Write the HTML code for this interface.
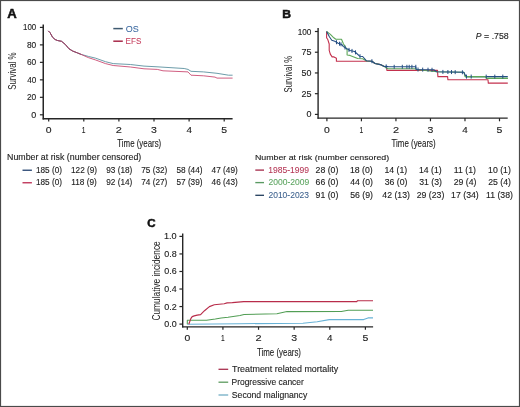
<!DOCTYPE html>
<html><head><meta charset="utf-8"><style>
html,body{margin:0;padding:0;background:#fff;}
body{width:520px;height:407px;overflow:hidden;position:relative;}
svg{position:absolute;left:0;top:0;will-change:transform;}
text{font-family:"Liberation Sans",sans-serif;}
</style></head><body>
<svg width="520" height="407" viewBox="0 0 520 407">
<rect x="0" y="0" width="520" height="407" fill="#fff"/>
<rect x="0.5" y="0.5" width="519" height="406" fill="none" stroke="#4a4a4a" stroke-width="1.2"/>
<text font-size="12.319" font-weight="bold" fill="#111" stroke="#111" stroke-width="0.5" transform="translate(7.27,17.60) scale(1.0662,1)">A</text>
<line x1="43.25" y1="24.4" x2="43.25" y2="119.4" stroke="#262626" stroke-width="1.5"/>
<line x1="42.7" y1="118.7" x2="232.6" y2="118.7" stroke="#262626" stroke-width="1.4"/>
<line x1="39.9" y1="114.8" x2="43.3" y2="114.8" stroke="#262626" stroke-width="1.2"/>
<text font-size="8.286" fill="#222" stroke="#222" stroke-width="0.12" transform="translate(31.24,117.80) scale(1.0812,1)">0</text>
<line x1="39.9" y1="97.32" x2="43.3" y2="97.32" stroke="#262626" stroke-width="1.2"/>
<text font-size="8.286" fill="#222" stroke="#222" stroke-width="0.12" transform="translate(26.88,100.32) scale(1.0126,1)">20</text>
<line x1="39.9" y1="79.84" x2="43.3" y2="79.84" stroke="#262626" stroke-width="1.2"/>
<text font-size="8.286" fill="#222" stroke="#222" stroke-width="0.12" transform="translate(27.14,82.84) scale(0.9838,1)">40</text>
<line x1="39.9" y1="62.36" x2="43.3" y2="62.36" stroke="#262626" stroke-width="1.2"/>
<text font-size="8.286" fill="#222" stroke="#222" stroke-width="0.12" transform="translate(26.88,65.36) scale(1.0126,1)">60</text>
<line x1="39.9" y1="44.879999999999995" x2="43.3" y2="44.879999999999995" stroke="#262626" stroke-width="1.2"/>
<text font-size="8.286" fill="#222" stroke="#222" stroke-width="0.12" transform="translate(26.92,47.88) scale(1.0077,1)">80</text>
<line x1="39.9" y1="27.39999999999999" x2="43.3" y2="27.39999999999999" stroke="#262626" stroke-width="1.2"/>
<text font-size="8.286" fill="#222" stroke="#222" stroke-width="0.12" transform="translate(23.01,30.40) scale(0.9547,1)">100</text>
<line x1="48.7" y1="118.7" x2="48.7" y2="121.5" stroke="#262626" stroke-width="1.2"/>
<text font-size="8.714" fill="#222" stroke="#222" stroke-width="0.12" transform="translate(45.78,133.00) scale(1.1954,1)">0</text>
<line x1="83.80000000000001" y1="118.7" x2="83.80000000000001" y2="121.5" stroke="#262626" stroke-width="1.2"/>
<text font-size="8.714" fill="#222" stroke="#222" stroke-width="0.12" transform="translate(81.85,133.00) scale(0.7650,1)">1</text>
<line x1="118.9" y1="118.7" x2="118.9" y2="121.5" stroke="#262626" stroke-width="1.2"/>
<text font-size="8.714" fill="#222" stroke="#222" stroke-width="0.12" transform="translate(115.85,133.00) scale(1.2610,1)">2</text>
<line x1="154.0" y1="118.7" x2="154.0" y2="121.5" stroke="#262626" stroke-width="1.2"/>
<text font-size="8.714" fill="#222" stroke="#222" stroke-width="0.12" transform="translate(151.08,133.00) scale(1.2079,1)">3</text>
<line x1="189.10000000000002" y1="118.7" x2="189.10000000000002" y2="121.5" stroke="#262626" stroke-width="1.2"/>
<text font-size="8.714" fill="#222" stroke="#222" stroke-width="0.12" transform="translate(186.40,133.00) scale(1.1362,1)">4</text>
<line x1="224.2" y1="118.7" x2="224.2" y2="121.5" stroke="#262626" stroke-width="1.2"/>
<text font-size="8.714" fill="#222" stroke="#222" stroke-width="0.12" transform="translate(221.28,133.00) scale(1.2079,1)">5</text>
<text font-size="10.870" fill="#222" stroke="#222" stroke-width="0.12" transform="translate(117.34,147.00) scale(0.7248,1)">Time (years)</text>
<g transform="translate(8.30,89.50) rotate(-90)"><text font-size="11.739" fill="#222" stroke="#222" stroke-width="0" transform="translate(-0.36,8.10) scale(0.6767,1)">Survival %</text></g>
<line x1="113.3" y1="28.6" x2="122.8" y2="28.6" stroke="#3f5a70" stroke-width="1.5"/>
<text font-size="9.275" fill="#3a68a0" stroke="#3a68a0" stroke-width="0.05" transform="translate(125.79,31.70) scale(0.9707,1)">OS</text>
<line x1="113.3" y1="41.2" x2="122.8" y2="41.2" stroke="#a82a4a" stroke-width="1.5"/>
<text font-size="9.130" fill="#c43a5a" stroke="#c43a5a" stroke-width="0.05" transform="translate(125.55,44.30) scale(0.8906,1)">EFS</text>
<polyline points="48.30,30.90 50.00,32.60 52.60,37.30 55.10,39.50 57.50,40.50 61.50,41.30 65.20,44.30 69.00,48.80 72.80,51.10 77.70,53.00 80.90,54.30 88.30,56.40 95.70,58.20 105.50,61.70 113.20,63.60 130.50,64.50 144.00,66.10 157.00,66.80 184.20,68.50 188.00,69.40 191.00,71.30 203.50,71.90 217.00,73.30 228.50,75.20 232.60,75.20" fill="none" stroke="#528a9a" stroke-width="0.85" stroke-linejoin="round"/>
<polyline points="48.30,30.90 50.00,32.60 52.60,37.30 55.10,39.50 57.50,40.50 61.50,41.30 65.20,44.30 69.00,48.80 72.80,51.10 77.70,53.00 80.90,54.30 88.30,57.60 95.70,60.00 105.50,63.60 113.20,65.50 130.50,67.00 144.00,68.80 157.30,69.40 163.00,70.80 188.00,71.90 191.00,75.20 203.50,75.80 215.00,77.10 217.00,78.10 232.60,78.10" fill="none" stroke="#c8416a" stroke-width="0.85" stroke-linejoin="round"/>
<polyline points="48.30,30.90 50.00,32.60 52.60,37.30 55.10,39.50 57.50,40.50 61.50,41.30 65.20,44.30 69.00,48.80 72.80,51.10 77.70,53.00 80.90,54.30" fill="none" stroke="#8a4262" stroke-width="0.85" stroke-linejoin="round"/>
<text font-size="8.406" fill="#222" stroke="#222" stroke-width="0.12" transform="translate(7.04,160.10) scale(1.0493,1)">Number at risk (number censored)</text>
<line x1="22.5" y1="170.25" x2="31.9" y2="170.25" stroke="#33507a" stroke-width="1.4"/>
<text font-size="8.286" fill="#222" stroke="#222" stroke-width="0.12" transform="translate(35.89,172.85) scale(0.9951,1)">185 (0)</text>
<text font-size="8.286" fill="#222" stroke="#222" stroke-width="0.12" transform="translate(70.99,172.85) scale(0.9951,1)">122 (9)</text>
<text font-size="8.286" fill="#222" stroke="#222" stroke-width="0.12" transform="translate(106.21,172.85) scale(0.9951,1)">93 (18)</text>
<text font-size="8.286" fill="#222" stroke="#222" stroke-width="0.12" transform="translate(141.29,172.85) scale(0.9951,1)">75 (32)</text>
<text font-size="8.286" fill="#222" stroke="#222" stroke-width="0.12" transform="translate(176.44,172.85) scale(0.9951,1)">58 (44)</text>
<text font-size="8.286" fill="#222" stroke="#222" stroke-width="0.12" transform="translate(211.62,172.85) scale(0.9951,1)">47 (49)</text>
<line x1="22.5" y1="182.75" x2="31.9" y2="182.75" stroke="#c0385c" stroke-width="1.4"/>
<text font-size="8.286" fill="#222" stroke="#222" stroke-width="0.12" transform="translate(35.89,185.35) scale(0.9951,1)">185 (0)</text>
<text font-size="8.286" fill="#222" stroke="#222" stroke-width="0.12" transform="translate(71.30,185.35) scale(0.9951,1)">118 (9)</text>
<text font-size="8.286" fill="#222" stroke="#222" stroke-width="0.12" transform="translate(106.21,185.35) scale(0.9951,1)">92 (14)</text>
<text font-size="8.286" fill="#222" stroke="#222" stroke-width="0.12" transform="translate(141.29,185.35) scale(0.9951,1)">74 (27)</text>
<text font-size="8.286" fill="#222" stroke="#222" stroke-width="0.12" transform="translate(176.44,185.35) scale(0.9951,1)">57 (39)</text>
<text font-size="8.286" fill="#222" stroke="#222" stroke-width="0.12" transform="translate(211.62,185.35) scale(0.9951,1)">46 (43)</text>
<text font-size="10.870" font-weight="bold" fill="#111" stroke="#111" stroke-width="0.5" transform="translate(282.21,17.60) scale(1.1161,1)">B</text>
<line x1="318.1" y1="28.0" x2="318.1" y2="118.7" stroke="#262626" stroke-width="1.4"/>
<line x1="317.5" y1="118.1" x2="507.7" y2="118.1" stroke="#262626" stroke-width="1.4"/>
<line x1="314.9" y1="114.4" x2="318.1" y2="114.4" stroke="#262626" stroke-width="1.2"/>
<text font-size="8.286" fill="#222" stroke="#222" stroke-width="0.12" transform="translate(306.44,117.40) scale(1.0812,1)">0</text>
<line x1="314.9" y1="93.67500000000001" x2="318.1" y2="93.67500000000001" stroke="#262626" stroke-width="1.2"/>
<text font-size="8.286" fill="#222" stroke="#222" stroke-width="0.12" transform="translate(301.45,96.68) scale(1.0886,1)">25</text>
<line x1="314.9" y1="72.95000000000002" x2="318.1" y2="72.95000000000002" stroke="#262626" stroke-width="1.2"/>
<text font-size="8.286" fill="#222" stroke="#222" stroke-width="0.12" transform="translate(301.54,75.95) scale(1.0728,1)">50</text>
<line x1="314.9" y1="52.22500000000001" x2="318.1" y2="52.22500000000001" stroke="#262626" stroke-width="1.2"/>
<text font-size="8.286" fill="#222" stroke="#222" stroke-width="0.12" transform="translate(301.45,55.23) scale(1.0886,1)">75</text>
<line x1="314.9" y1="31.500000000000014" x2="318.1" y2="31.500000000000014" stroke="#262626" stroke-width="1.2"/>
<text font-size="8.286" fill="#222" stroke="#222" stroke-width="0.12" transform="translate(297.68,34.50) scale(0.9935,1)">100</text>
<line x1="326.9" y1="118.1" x2="326.9" y2="121.3" stroke="#262626" stroke-width="1.2"/>
<text font-size="8.286" fill="#222" stroke="#222" stroke-width="0.12" transform="translate(323.98,133.00) scale(1.2572,1)">0</text>
<line x1="361.41999999999996" y1="118.1" x2="361.41999999999996" y2="121.3" stroke="#262626" stroke-width="1.2"/>
<text font-size="8.286" fill="#222" stroke="#222" stroke-width="0.12" transform="translate(359.47,133.00) scale(0.8046,1)">1</text>
<line x1="395.94" y1="118.1" x2="395.94" y2="121.3" stroke="#262626" stroke-width="1.2"/>
<text font-size="8.286" fill="#222" stroke="#222" stroke-width="0.12" transform="translate(392.89,133.00) scale(1.3263,1)">2</text>
<line x1="430.46" y1="118.1" x2="430.46" y2="121.3" stroke="#262626" stroke-width="1.2"/>
<text font-size="8.286" fill="#222" stroke="#222" stroke-width="0.12" transform="translate(427.54,133.00) scale(1.2704,1)">3</text>
<line x1="464.98" y1="118.1" x2="464.98" y2="121.3" stroke="#262626" stroke-width="1.2"/>
<text font-size="8.286" fill="#222" stroke="#222" stroke-width="0.12" transform="translate(462.28,133.00) scale(1.1949,1)">4</text>
<line x1="499.5" y1="118.1" x2="499.5" y2="121.3" stroke="#262626" stroke-width="1.2"/>
<text font-size="8.286" fill="#222" stroke="#222" stroke-width="0.12" transform="translate(496.58,133.00) scale(1.2704,1)">5</text>
<text font-size="10.580" fill="#222" stroke="#222" stroke-width="0.12" transform="translate(391.54,146.80) scale(0.7489,1)">Time (years)</text>
<g transform="translate(284.60,92.20) rotate(-90)"><text font-size="10.000" fill="#222" stroke="#222" stroke-width="0" transform="translate(-0.35,6.90) scale(0.7793,1)">Survival %</text></g>
<text font-size="8.986" font-style="italic" fill="#222" stroke="#222" stroke-width="0.12" transform="translate(475.84,39.00) scale(0.9539,1)">P</text>
<text font-size="8.732" fill="#222" stroke="#222" stroke-width="0.12" transform="translate(484.06,38.91) scale(1.0081,1)">= .758</text>
<polyline points="326.60,31.50 326.60,37.80 327.90,39.80 329.20,44.00 329.20,50.40 330.30,54.10 332.10,56.90 334.00,56.90 336.40,58.30 336.40,61.20 366.50,61.20 371.90,61.20 375.00,63.50 380.40,64.60 384.20,66.50 386.50,66.50 386.90,70.40 437.50,70.40 437.90,76.60 447.60,76.60 447.90,79.80 488.00,79.80 488.30,83.10 507.80,83.10" fill="none" stroke="#c3304d" stroke-width="1.1" stroke-linejoin="round"/>
<polyline points="326.60,31.50 330.40,34.40 333.80,37.80 335.80,39.30 341.50,39.30 343.40,43.80 347.10,49.90 347.10,55.00 350.00,55.40 357.70,58.50 362.70,58.80 366.50,61.00 371.90,61.20 375.00,63.50 380.40,64.60 384.20,66.50 388.00,68.80 415.80,68.80 416.00,69.50 436.50,71.80 464.00,72.30 465.00,76.60 486.00,76.60 486.50,78.40 507.80,78.40" fill="none" stroke="#5ea75a" stroke-width="1.1" stroke-linejoin="round"/>
<polyline points="326.60,31.50 329.40,36.80 331.80,40.30 334.80,41.30 338.20,43.20 342.00,44.70 343.40,46.60 350.00,50.50 354.60,51.50 359.60,56.20 362.70,56.50 366.50,60.80 371.90,61.20 375.00,63.50 380.40,64.60 384.20,66.50 386.50,66.40 388.80,66.80 415.80,66.80 416.20,69.50 433.80,69.80 436.50,71.80 463.80,72.30 466.00,76.60 507.80,76.60" fill="none" stroke="#254f84" stroke-width="1.1" stroke-linejoin="round"/>
<polyline points="465.00,76.60 486.00,76.60 486.50,78.40 507.80,78.40" fill="none" stroke="#5ea75a" stroke-width="1.1" stroke-linejoin="round"/>
<line x1="336.5" y1="40.25" x2="336.5" y2="44.25" stroke="#254f84" stroke-width="1.0"/>
<line x1="339.5" y1="41.713157894736845" x2="339.5" y2="45.713157894736845" stroke="#254f84" stroke-width="1.0"/>
<line x1="341" y1="42.30526315789474" x2="341" y2="46.30526315789474" stroke="#254f84" stroke-width="1.0"/>
<line x1="345" y1="45.545454545454554" x2="345" y2="49.545454545454554" stroke="#254f84" stroke-width="1.0"/>
<line x1="349" y1="47.909090909090914" x2="349" y2="51.909090909090914" stroke="#254f84" stroke-width="1.0"/>
<line x1="352" y1="48.93478260869565" x2="352" y2="52.93478260869565" stroke="#254f84" stroke-width="1.0"/>
<line x1="355.5" y1="50.34599999999998" x2="355.5" y2="54.34599999999998" stroke="#254f84" stroke-width="1.0"/>
<line x1="360" y1="54.23870967741936" x2="360" y2="58.23870967741936" stroke="#254f84" stroke-width="1.0"/>
<line x1="371.9" y1="59.2" x2="371.9" y2="63.2" stroke="#254f84" stroke-width="1.0"/>
<line x1="386.2" y1="64.41304347826087" x2="386.2" y2="68.41304347826087" stroke="#254f84" stroke-width="1.0"/>
<line x1="394.2" y1="64.8" x2="394.2" y2="68.8" stroke="#254f84" stroke-width="1.0"/>
<line x1="402.3" y1="64.8" x2="402.3" y2="68.8" stroke="#254f84" stroke-width="1.0"/>
<line x1="406.9" y1="64.8" x2="406.9" y2="68.8" stroke="#254f84" stroke-width="1.0"/>
<line x1="409.2" y1="64.8" x2="409.2" y2="68.8" stroke="#254f84" stroke-width="1.0"/>
<line x1="411.9" y1="64.8" x2="411.9" y2="68.8" stroke="#254f84" stroke-width="1.0"/>
<line x1="415.8" y1="64.8" x2="415.8" y2="68.8" stroke="#254f84" stroke-width="1.0"/>
<line x1="418" y1="67.53068181818182" x2="418" y2="71.53068181818182" stroke="#254f84" stroke-width="1.0"/>
<line x1="422.7" y1="67.61079545454545" x2="422.7" y2="71.61079545454545" stroke="#254f84" stroke-width="1.0"/>
<line x1="428" y1="67.70113636363637" x2="428" y2="71.70113636363637" stroke="#254f84" stroke-width="1.0"/>
<line x1="432" y1="67.76931818181818" x2="432" y2="71.76931818181818" stroke="#254f84" stroke-width="1.0"/>
<line x1="442.9" y1="69.91721611721611" x2="442.9" y2="73.91721611721611" stroke="#254f84" stroke-width="1.0"/>
<line x1="447.9" y1="70.00879120879121" x2="447.9" y2="74.00879120879121" stroke="#254f84" stroke-width="1.0"/>
<line x1="451.5" y1="70.07472527472527" x2="451.5" y2="74.07472527472527" stroke="#254f84" stroke-width="1.0"/>
<line x1="455.2" y1="70.14249084249084" x2="455.2" y2="74.14249084249084" stroke="#254f84" stroke-width="1.0"/>
<line x1="462.4" y1="70.27435897435898" x2="462.4" y2="74.27435897435898" stroke="#254f84" stroke-width="1.0"/>
<line x1="466.5" y1="74.6" x2="466.5" y2="78.6" stroke="#254f84" stroke-width="1.0"/>
<line x1="471.2" y1="74.6" x2="471.2" y2="78.6" stroke="#254f84" stroke-width="1.0"/>
<line x1="486.2" y1="74.6" x2="486.2" y2="78.6" stroke="#254f84" stroke-width="1.0"/>
<line x1="494.8" y1="74.6" x2="494.8" y2="78.6" stroke="#254f84" stroke-width="1.0"/>
<line x1="502.8" y1="74.6" x2="502.8" y2="78.6" stroke="#254f84" stroke-width="1.0"/>
<text font-size="8.116" fill="#222" stroke="#222" stroke-width="0.12" transform="translate(254.89,159.90) scale(1.0888,1)">Number at risk (number censored)</text>
<line x1="255.3" y1="170.1" x2="264.0" y2="170.1" stroke="#a83050" stroke-width="1.35"/>
<text font-size="8.571" fill="#b43454" stroke="#b43454" stroke-width="0.06" transform="translate(268.26,172.90) scale(0.9989,1)">1985-1999</text>
<text font-size="8.286" fill="#222" stroke="#222" stroke-width="0.12" transform="translate(315.56,172.70) scale(1.0524,1)">28 (0)</text>
<text font-size="8.286" fill="#222" stroke="#222" stroke-width="0.12" transform="translate(349.97,172.70) scale(1.0524,1)">18 (0)</text>
<text font-size="8.286" fill="#222" stroke="#222" stroke-width="0.12" transform="translate(384.50,172.70) scale(1.0524,1)">14 (1)</text>
<text font-size="8.286" fill="#222" stroke="#222" stroke-width="0.12" transform="translate(419.01,172.70) scale(1.0524,1)">14 (1)</text>
<text font-size="8.286" fill="#222" stroke="#222" stroke-width="0.12" transform="translate(453.86,172.70) scale(1.0524,1)">11 (1)</text>
<text font-size="8.286" fill="#222" stroke="#222" stroke-width="0.12" transform="translate(488.06,172.70) scale(1.0524,1)">10 (1)</text>
<line x1="255.3" y1="182.6" x2="264.0" y2="182.6" stroke="#5a9a62" stroke-width="1.35"/>
<text font-size="8.571" fill="#5aa35e" stroke="#5aa35e" stroke-width="0.06" transform="translate(268.47,185.40) scale(0.9936,1)">2000-2009</text>
<text font-size="8.286" fill="#222" stroke="#222" stroke-width="0.12" transform="translate(315.56,185.20) scale(1.0524,1)">66 (0)</text>
<text font-size="8.286" fill="#222" stroke="#222" stroke-width="0.12" transform="translate(350.21,185.20) scale(1.0524,1)">44 (0)</text>
<text font-size="8.286" fill="#222" stroke="#222" stroke-width="0.12" transform="translate(384.65,185.20) scale(1.0524,1)">36 (0)</text>
<text font-size="8.286" fill="#222" stroke="#222" stroke-width="0.12" transform="translate(419.17,185.20) scale(1.0524,1)">31 (3)</text>
<text font-size="8.286" fill="#222" stroke="#222" stroke-width="0.12" transform="translate(453.64,185.20) scale(1.0524,1)">29 (4)</text>
<text font-size="8.286" fill="#222" stroke="#222" stroke-width="0.12" transform="translate(488.16,185.20) scale(1.0524,1)">25 (4)</text>
<line x1="255.3" y1="195.3" x2="264.0" y2="195.3" stroke="#2c4664" stroke-width="1.35"/>
<text font-size="8.571" fill="#3a5f8c" stroke="#3a5f8c" stroke-width="0.06" transform="translate(268.47,198.10) scale(0.9925,1)">2010-2023</text>
<text font-size="8.286" fill="#222" stroke="#222" stroke-width="0.12" transform="translate(315.59,197.90) scale(1.0524,1)">91 (0)</text>
<text font-size="8.286" fill="#222" stroke="#222" stroke-width="0.12" transform="translate(350.13,197.90) scale(1.0524,1)">56 (9)</text>
<text font-size="8.286" fill="#222" stroke="#222" stroke-width="0.12" transform="translate(382.31,197.90) scale(1.0524,1)">42 (13)</text>
<text font-size="8.286" fill="#222" stroke="#222" stroke-width="0.12" transform="translate(416.70,197.90) scale(1.0524,1)">29 (23)</text>
<text font-size="8.286" fill="#222" stroke="#222" stroke-width="0.12" transform="translate(451.12,197.90) scale(1.0524,1)">17 (34)</text>
<text font-size="8.286" fill="#222" stroke="#222" stroke-width="0.12" transform="translate(485.96,197.90) scale(1.0524,1)">11 (38)</text>
<text font-size="10.704" font-weight="bold" fill="#111" stroke="#111" stroke-width="0.5" transform="translate(147.14,226.89) scale(1.0840,1)">C</text>
<line x1="182.7" y1="233.4" x2="182.7" y2="327.5" stroke="#262626" stroke-width="1.4"/>
<line x1="182.1" y1="326.9" x2="373.1" y2="326.9" stroke="#262626" stroke-width="1.4"/>
<line x1="179.4" y1="324.1" x2="182.7" y2="324.1" stroke="#262626" stroke-width="1.2"/>
<text font-size="8.286" fill="#222" stroke="#222" stroke-width="0.12" transform="translate(164.24,327.10) scale(1.0738,1)">0.0</text>
<line x1="179.4" y1="306.56" x2="182.7" y2="306.56" stroke="#262626" stroke-width="1.2"/>
<text font-size="8.286" fill="#222" stroke="#222" stroke-width="0.12" transform="translate(164.24,309.56) scale(1.0862,1)">0.2</text>
<line x1="179.4" y1="289.02000000000004" x2="182.7" y2="289.02000000000004" stroke="#262626" stroke-width="1.2"/>
<text font-size="8.286" fill="#222" stroke="#222" stroke-width="0.12" transform="translate(164.25,292.02) scale(1.0697,1)">0.4</text>
<line x1="179.4" y1="271.48" x2="182.7" y2="271.48" stroke="#262626" stroke-width="1.2"/>
<text font-size="8.286" fill="#222" stroke="#222" stroke-width="0.12" transform="translate(164.24,274.48) scale(1.0779,1)">0.6</text>
<line x1="179.4" y1="253.94" x2="182.7" y2="253.94" stroke="#262626" stroke-width="1.2"/>
<text font-size="8.286" fill="#222" stroke="#222" stroke-width="0.12" transform="translate(164.24,256.94) scale(1.0779,1)">0.8</text>
<line x1="179.4" y1="236.40000000000003" x2="182.7" y2="236.40000000000003" stroke="#262626" stroke-width="1.2"/>
<text font-size="8.286" fill="#222" stroke="#222" stroke-width="0.12" transform="translate(163.91,239.40) scale(1.1032,1)">1.0</text>
<line x1="187.3" y1="326.9" x2="187.3" y2="329.8" stroke="#262626" stroke-width="1.2"/>
<text font-size="8.143" fill="#222" stroke="#222" stroke-width="0.12" transform="translate(184.38,341.30) scale(1.2792,1)">0</text>
<line x1="222.92000000000002" y1="326.9" x2="222.92000000000002" y2="329.8" stroke="#262626" stroke-width="1.2"/>
<text font-size="8.143" fill="#222" stroke="#222" stroke-width="0.12" transform="translate(220.97,341.30) scale(0.8187,1)">1</text>
<line x1="258.54" y1="326.9" x2="258.54" y2="329.8" stroke="#262626" stroke-width="1.2"/>
<text font-size="8.143" fill="#222" stroke="#222" stroke-width="0.12" transform="translate(255.49,341.30) scale(1.3495,1)">2</text>
<line x1="294.15999999999997" y1="326.9" x2="294.15999999999997" y2="329.8" stroke="#262626" stroke-width="1.2"/>
<text font-size="8.143" fill="#222" stroke="#222" stroke-width="0.12" transform="translate(291.24,341.30) scale(1.2927,1)">3</text>
<line x1="329.78" y1="326.9" x2="329.78" y2="329.8" stroke="#262626" stroke-width="1.2"/>
<text font-size="8.143" fill="#222" stroke="#222" stroke-width="0.12" transform="translate(327.08,341.30) scale(1.2159,1)">4</text>
<line x1="365.4" y1="326.9" x2="365.4" y2="329.8" stroke="#262626" stroke-width="1.2"/>
<text font-size="8.143" fill="#222" stroke="#222" stroke-width="0.12" transform="translate(362.48,341.30) scale(1.2927,1)">5</text>
<text font-size="10.870" fill="#222" stroke="#222" stroke-width="0.12" transform="translate(257.04,355.60) scale(0.7256,1)">Time (years)</text>
<g transform="translate(151.60,320.20) rotate(-90)"><text font-size="11.429" fill="#222" stroke="#222" stroke-width="0" transform="translate(-0.42,8.29) scale(0.7309,1)">Cumulative incidence</text></g>
<polyline points="187.30,324.30 239.40,323.70 302.90,323.20 317.20,321.80 329.30,319.60 363.70,319.60 368.00,317.90 373.00,317.90" fill="none" stroke="#68b2d6" stroke-width="1.1" stroke-linejoin="round"/>
<polyline points="187.30,324.30 187.30,320.30 206.50,320.30 215.30,319.10 221.20,318.10 228.00,317.30 240.00,315.60 244.00,314.60 276.90,313.70 287.00,311.60 341.30,311.50 348.20,310.30 373.00,310.30" fill="none" stroke="#529e55" stroke-width="1.05" stroke-linejoin="round"/>
<polyline points="188.80,324.30 190.80,318.60 192.20,316.60 194.20,315.90 197.20,315.10 200.60,314.60 204.50,310.70 209.40,306.60 214.30,304.80 219.30,304.30 224.20,303.80 227.10,302.90 232.30,302.60 243.70,301.60 356.80,301.60 357.50,300.70 373.00,300.70" fill="none" stroke="#b82c4a" stroke-width="1.15" stroke-linejoin="round"/>
<line x1="218.5" y1="369.3" x2="228.2" y2="369.3" stroke="#a8304e" stroke-width="1.3"/>
<text font-size="9.565" fill="#222" stroke="#222" stroke-width="0.12" transform="translate(232.02,372.40) scale(0.9320,1)">Treatment related mortality</text>
<line x1="218.5" y1="382.2" x2="228.2" y2="382.2" stroke="#5c9a5e" stroke-width="1.3"/>
<text font-size="9.565" fill="#222" stroke="#222" stroke-width="0.12" transform="translate(231.52,385.30) scale(0.8848,1)">Progressive cancer</text>
<line x1="218.5" y1="395.0" x2="228.2" y2="395.0" stroke="#72aec4" stroke-width="1.3"/>
<text font-size="9.565" fill="#222" stroke="#222" stroke-width="0.12" transform="translate(231.81,398.10) scale(0.9052,1)">Second malignancy</text>
</svg>
</body></html>
